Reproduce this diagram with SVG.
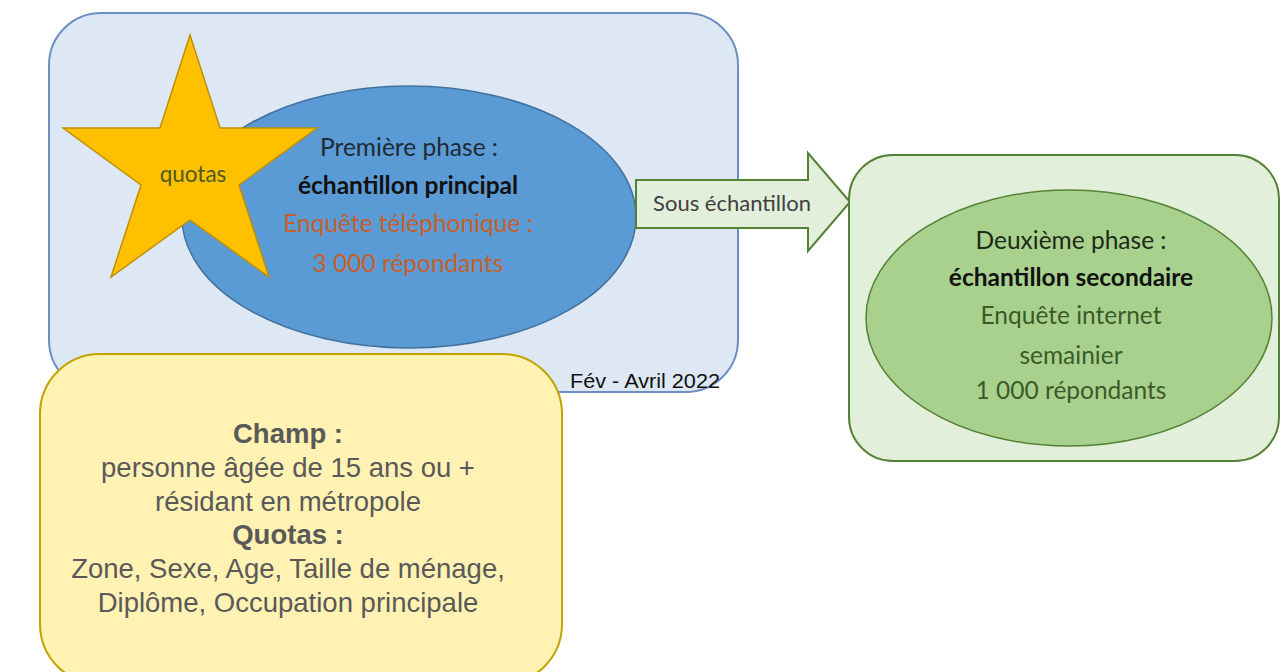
<svg xmlns="http://www.w3.org/2000/svg" width="1281" height="672" viewBox="0 0 1281 672">
<style>
.cal{font-family:Lato,"Open Sans","Liberation Sans",sans-serif;text-anchor:middle}
.hv{font-family:"Liberation Sans",Arial,sans-serif;text-anchor:middle;fill:#595959;font-size:27.5px}
</style>
<rect width="1281" height="672" fill="#ffffff"/>
<g id="phase1">
<rect x="49" y="13" width="689" height="379" rx="52" fill="#dde8f4" stroke="#6a8fc0" stroke-width="2"/>
<ellipse cx="409" cy="217" rx="227" ry="131" fill="#5b9bd5" stroke="#41719c" stroke-width="1.5"/>
<text class="cal" x="409" y="156" font-size="24.5" fill="#1f2a33">Première phase :</text>
<text class="cal" x="408" y="194" font-size="24.5" font-weight="bold" fill="#111">échantillon principal</text>
<text class="cal" x="408" y="232" font-size="24.5" fill="#c5602a">Enquête téléphonique :</text>
<text class="cal" x="408" y="272" font-size="24.5" fill="#c5602a">3 000 répondants</text>
</g>
<g id="star">
<polygon points="190,35 220,128 317,128 239,185 269,277 190,220 111,277 141,185 63,128 160,128" fill="#ffc000" stroke="#bf9000" stroke-width="1.5"/>
<text class="cal" x="193" y="182" font-size="22.5" fill="#4e5a20">quotas</text>
</g>
<g id="connectors">
<polygon points="636,180 808,180 808,153 850,202 808,251 808,228 636,228" fill="#e2efda" stroke="#548235" stroke-width="2"/>
<text class="cal" x="732" y="211" font-size="22" fill="#404040">Sous échantillon</text>
</g>
<g id="phase2">
<rect x="849" y="155" width="430" height="306" rx="44" fill="#e2efda" stroke="#548235" stroke-width="2"/>
<ellipse cx="1069" cy="318" rx="203" ry="128" fill="#a9d18e" stroke="#548235" stroke-width="1.5"/>
<text class="cal" x="1071" y="249" font-size="24.5" fill="#1e2a18">Deuxième phase :</text>
<text class="cal" x="1071" y="286" font-size="24.5" font-weight="bold" fill="#111">échantillon secondaire</text>
<text class="cal" x="1071" y="324" font-size="24.5" fill="#3b5a2a">Enquête internet</text>
<text class="cal" x="1071" y="364" font-size="24.5" fill="#3b5a2a">semainier</text>
<text class="cal" x="1071" y="399" font-size="24.5" fill="#3b5a2a">1 000 répondants</text>
</g>
<g id="champ">
<rect x="40" y="354" width="522" height="330" rx="60" fill="#fff2b3" stroke="#c2a300" stroke-width="2"/>
<text class="hv" x="288" y="443" font-weight="bold">Champ :</text>
<text class="hv" x="288" y="477">personne âgée de 15 ans ou +</text>
<text class="hv" x="288" y="511">résidant en métropole</text>
<text class="hv" x="288" y="544" font-weight="bold">Quotas :</text>
<text class="hv" x="288" y="578">Zone, Sexe, Age, Taille de ménage,</text>
<text class="hv" x="288" y="612">Diplôme, Occupation principale</text>
</g>
<g id="date">
<text x="570" y="388" font-family="'Liberation Sans',Arial,sans-serif" font-size="20" textLength="150" lengthAdjust="spacingAndGlyphs" fill="#111">Fév - Avril 2022</text>
</g>
</svg>
